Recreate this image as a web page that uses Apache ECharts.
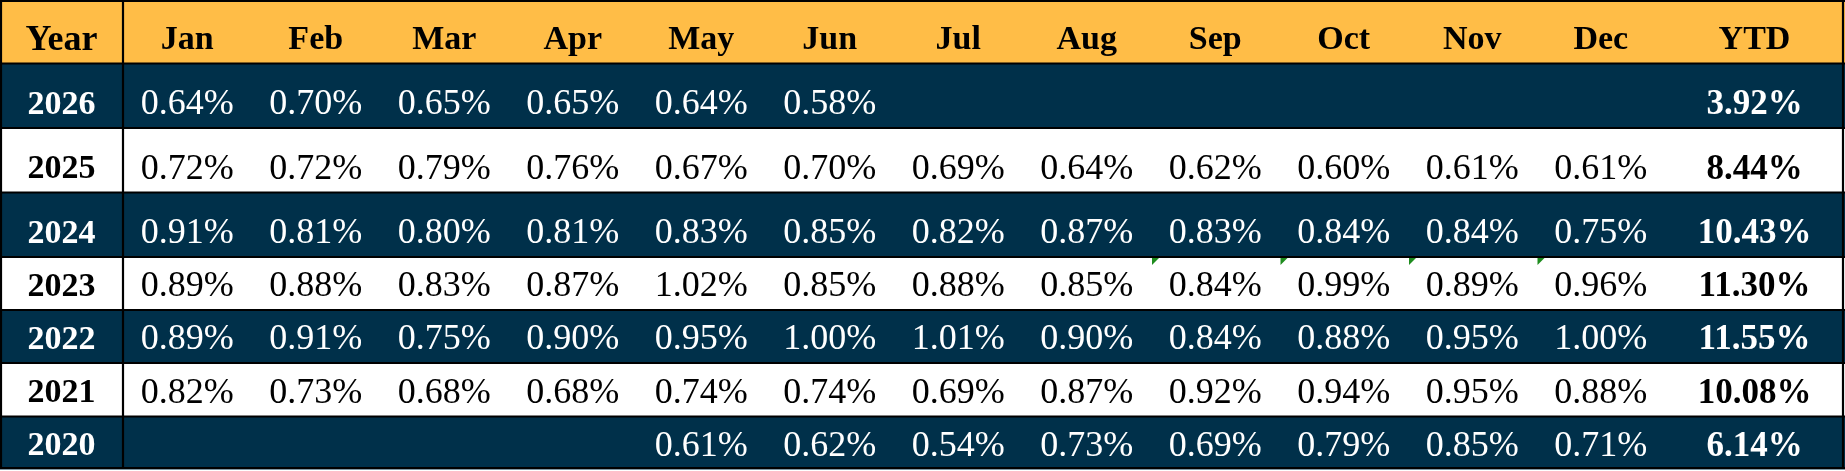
<!DOCTYPE html>
<html>
<head>
<meta charset="utf-8">
<script src="https://cdn.jsdelivr.net/npm/echarts@6/dist/echarts.min.js"></script>
<style>
  html, body { margin: 0; padding: 0; background: #fff; }
  #table { width: 1845px; height: 471px; }
</style>
</head>
<body>
<div id="table"></div>
<script>
// 表格数据
const months = ['Jan', 'Feb', 'Mar', 'Apr', 'May', 'Jun', 'Jul', 'Aug', 'Sep', 'Oct', 'Nov', 'Dec'];
const years = ['2026', '2025', '2024', '2023', '2022', '2021', '2020'];

const m2026 = [0.64, 0.70, 0.65, 0.65, 0.64, 0.58, null, null, null, null, null, null];
const m2025 = [0.72, 0.72, 0.79, 0.76, 0.67, 0.70, 0.69, 0.64, 0.62, 0.60, 0.61, 0.61];
const m2024 = [0.91, 0.81, 0.80, 0.81, 0.83, 0.85, 0.82, 0.87, 0.83, 0.84, 0.84, 0.75];
const m2023 = [0.89, 0.88, 0.83, 0.87, 1.02, 0.85, 0.88, 0.85, 0.84, 0.99, 0.89, 0.96];
const m2022 = [0.89, 0.91, 0.75, 0.90, 0.95, 1.00, 1.01, 0.90, 0.84, 0.88, 0.95, 1.00];
const m2021 = [0.82, 0.73, 0.68, 0.68, 0.74, 0.74, 0.69, 0.87, 0.92, 0.94, 0.95, 0.88];
const m2020 = [null, null, null, null, 0.61, 0.62, 0.54, 0.73, 0.69, 0.79, 0.85, 0.71];
const ytd = [3.92, 8.44, 10.43, 11.30, 11.55, 10.08, 6.14];

// Excel 绿色小三角 (2023 行)
const flagged2023 = ['Sep', 'Oct', 'Nov', 'Dec'];

const monthly = [m2026, m2025, m2024, m2023, m2022, m2021, m2020];

// 布局
const W = 1845, H = 471;
const colW = [123].concat(months.map(() => 128.5));
colW.push(W - colW.reduce((a, b) => a + b, 0) - 1);
const rowH = [63.5, 64.5, 64.5, 64.5, 53, 53, 53.5, 53];
const xE = [0], yE = [0];
colW.forEach(w => xE.push(xE[xE.length - 1] + w));
rowH.forEach(h => yE.push(yE[yE.length - 1] + h));

const NAVY = '#00304a';
const GOLD = '#ffbd47';
const FONT = "'Liberation Serif', 'DejaVu Serif', serif";

const fmt = v => (v == null ? '' : v.toFixed(2) + '%');
const rowBg = r => (r === 0 ? GOLD : ((r - 1) % 2 === 0 ? NAVY : '#fff'));
const rowFg = r => (rowBg(r) === NAVY ? '#fff' : '#000');

// 单元格 [列, 行, 文本, 是否粗体, 是否标记]
const cells = [];
cells.push([0, 0, 'Year', 1, 0]);
months.forEach((m, i) => cells.push([i + 1, 0, m, 1, 0]));
cells.push([13, 0, 'YTD', 1, 0]);
years.forEach((y, r) => {
  cells.push([0, r + 1, y, 1, 0]);
  monthly[r].forEach((v, i) => {
    const flag = y === '2023' && flagged2023.indexOf(months[i]) >= 0 ? 1 : 0;
    cells.push([i + 1, r + 1, fmt(v), 0, flag]);
  });
  cells.push([13, r + 1, fmt(ytd[r]), 1, 0]);
});

// 行背景
function renderRow(params, api) {
  const r = api.value(0);
  const p0 = api.coord([0, yE[r]]);
  const p1 = api.coord([W, yE[r + 1]]);
  return {
    type: 'rect',
    shape: { x: p0[0], y: p0[1], width: p1[0] - p0[0], height: p1[1] - p0[1] },
    style: { fill: rowBg(r) }
  };
}

function renderCell(params, api) {
  const c = api.value(0), r = api.value(1);
  const cell = cells[params.dataIndex];
  const p0 = api.coord([xE[c], yE[r]]);
  const p1 = api.coord([xE[c + 1], yE[r + 1]]);
  let size = 36;
  if (r === 0) size = c === 0 ? 36 : 34;
  else if (c === 0) size = 34;
  else if (c === 13) size = 35;
  const children = [{
    type: 'text',
    style: {
      text: cell[2],
      x: (p0[0] + p1[0]) / 2,
      y: p1[1] - 23,
      align: 'center',
      verticalAlign: 'middle',
      fontFamily: FONT,
      fontSize: size,
      fontWeight: cell[3] ? 'bold' : 'normal',
      fill: rowFg(r)
    }
  }];
  if (cell[4]) {
    children.push({
      type: 'polygon',
      shape: { points: [[p0[0] + 1, p0[1] + 1], [p0[0] + 8, p0[1] + 1], [p0[0] + 1, p0[1] + 8]] },
      style: { fill: '#1e8c1e' }
    });
  }
  return { type: 'group', children: children };
}

// 网格线
const lines = [];
yE.forEach(y => {
  const yy = Math.min(Math.max(y, 1), H - 3);
  lines.push([0, yy, W, yy]);
});
lines.push([1, 0, 1, H - 3]);
lines.push([xE[1], 0, xE[1], H - 3]);
lines.push([W - 2, 0, W - 2, H - 3]);

function renderLine(params, api) {
  const a = api.coord([api.value(0), api.value(1)]);
  const b = api.coord([api.value(2), api.value(3)]);
  return {
    type: 'line',
    shape: { x1: a[0], y1: a[1], x2: b[0], y2: b[1] },
    style: { stroke: '#000', lineWidth: 2.2 }
  };
}

const chart = echarts.init(document.getElementById('table'));
chart.setOption({
  animation: false,
  grid: { left: 0, right: 0, top: 0, bottom: 0 },
  xAxis: { type: 'value', min: 0, max: W, show: false },
  yAxis: { type: 'value', min: 0, max: H, inverse: true, show: false },
  series: [{
    type: 'custom',
    renderItem: renderRow,
    data: rowH.map((h, r) => [r]),
    silent: true,
    z: 1
  }, {
    type: 'custom',
    renderItem: renderCell,
    data: cells.map(c => [c[0], c[1]]),
    silent: true,
    z: 2
  }, {
    type: 'custom',
    renderItem: renderLine,
    data: lines,
    silent: true,
    z: 3
  }]
});
</script>
</body>
</html>
